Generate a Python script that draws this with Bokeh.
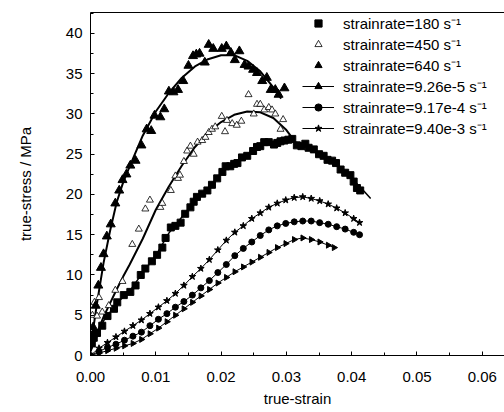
import numpy as np
from bokeh.plotting import figure
from bokeh.models import (Range1d, SingleIntervalTicker, LinearAxis, Legend,
                          LegendItem, FixedTicker, PrintfTickFormatter)
from bokeh.embed import file_html
from bokeh.resources import INLINE

FONT = "Liberation Sans"

# ---------------- data ----------------
# strain rate 180 s^-1 (filled squares)
s180_x = [0.0002,0.0005,0.0010,0.0018,0.0026,0.0036,0.0041,0.0051,0.0061,0.0069,
          0.0077,0.0084,0.0094,0.0102,0.0110,0.0115,0.0123,0.0130,0.0138,0.0145,
          0.0153,0.0158,0.0163,0.0171,0.0179,0.0186,0.0194,0.0202,0.0207,0.0214,
          0.0220,0.0225,0.0232,0.0240,0.0249,0.0255,0.0260,0.0266,0.0273,0.0281,
          0.0286,0.0291,0.0297,0.0303,0.0309,0.0316,0.0323,0.0329,0.0334,0.0342,
          0.0350,0.0357,0.0363,0.0370,0.0376,0.0383,0.0390,0.0398,0.0403,0.0408,0.0413]
s180_y = [1.5,2.2,2.8,3.7,4.9,5.8,6.6,7.5,7.9,8.7,
          10.0,10.8,11.7,12.5,13.4,14.6,15.9,16.1,16.5,17.6,
          18.4,19.1,19.7,20.1,20.5,21.2,22.0,22.8,23.5,23.5,
          23.8,23.9,24.6,24.8,25.4,25.9,26.0,26.5,26.5,26.2,
          26.4,26.6,26.7,26.8,26.9,26.1,26.0,26.3,25.8,25.6,
          25.0,24.8,24.3,24.2,23.9,23.1,22.7,22.4,21.6,20.8,20.5]
fit180_x = [0.0,0.002,0.004,0.006,0.008,0.010,0.012,0.014,0.016,0.018,0.020,0.022,
            0.024,0.026,0.028,0.030,0.032,0.034,0.036,0.038,0.040,0.042,0.0429]
fit180_y = [0.5,4.3,6.5,8.0,10.3,12.4,15.2,17.2,19.2,20.8,22.6,23.9,
            25.0,26.0,26.5,26.7,26.4,25.7,24.7,23.4,22.0,20.3,19.5]

# strain rate 450 s^-1 (open triangles)
s450_x = [0.0003,0.0006,0.0010,0.0013,0.0018,0.0028,0.0038,0.0049,0.0064,0.0074,
          0.0084,0.0091,0.0107,0.0110,0.0123,0.0130,0.0134,0.0137,0.0143,0.0148,
          0.0153,0.0158,0.0164,0.0171,0.0176,0.0181,0.0186,0.0191,0.0201,0.0206,
          0.0209,0.0217,0.0224,0.0231,0.0242,0.0250,0.0255,0.0260,0.0266,0.0273,
          0.0278,0.0283,0.0291,0.0295]
s450_y = [5.0,6.6,4.9,7.2,5.4,6.2,8.1,9.2,13.8,15.7,
          18.2,19.3,18.4,18.9,20.5,22.3,22.0,22.4,24.1,25.4,
          26.0,25.0,26.5,26.7,27.1,27.7,28.1,28.4,29.7,27.8,
          29.2,28.8,28.6,29.1,32.4,30.0,31.2,31.2,30.5,30.8,
          30.5,30.0,28.1,29.3]
fit450_x = [0.0,0.001,0.002,0.003,0.004,0.005,0.006,0.008,0.010,0.012,0.014,
            0.016,0.018,0.020,0.022,0.024,0.026,0.028,0.030,0.031]
fit450_y = [0.5,2.8,4.8,6.5,8.2,9.8,11.3,14.5,18.1,21.0,23.6,
            25.9,27.7,29.0,29.9,30.3,30.2,29.5,28.0,26.9]

# strain rate 640 s^-1 (filled triangles)
s640_x = [0.0001,0.0004,0.0008,0.0012,0.0016,0.0020,0.0025,0.0031,0.0038,0.0044,
          0.0049,0.0055,0.0061,0.0069,0.0078,0.0086,0.0093,0.0098,0.0107,0.0113,
          0.0120,0.0127,0.0134,0.0142,0.0150,0.0157,0.0162,0.0167,0.0175,0.0181,
          0.0188,0.0201,0.0208,0.0215,0.0221,0.0228,0.0236,0.0242,0.0249,0.0255,
          0.0263,0.0270,0.0276,0.0283,0.0288,0.0297]
s640_y = [2.4,3.5,6.2,8.7,10.9,12.6,14.8,16.3,18.9,20.5,
          21.8,22.5,23.6,24.2,26.1,28.1,27.9,29.8,29.6,30.6,
          32.8,32.7,33.0,34.1,36.0,37.2,37.4,37.5,36.4,38.6,
          38.1,38.1,38.4,37.6,36.7,37.8,36.1,35.9,35.5,35.1,
          34.1,34.5,33.0,33.0,32.4,33.2]
fit640_x = [0.0,0.001,0.002,0.003,0.004,0.005,0.006,0.008,0.010,0.012,0.014,
            0.016,0.018,0.020,0.022,0.024,0.026,0.028,0.0292]
fit640_y = [1.0,6.5,11.5,15.5,19.0,21.5,23.5,27.3,30.3,32.6,34.5,
            35.9,36.8,37.3,37.3,36.6,35.3,33.3,31.9]

# quasi-static strain rates (line + markers)
qs_x = [0.0000,0.0013,0.0026,0.0039,0.0052,0.0065,0.0078,0.0091,0.0104,0.0117,
        0.0130,0.0143,0.0156,0.0169,0.0182,0.0195,0.0208,0.0221,0.0234,0.0247,
        0.0260,0.0273,0.0286,0.0299,0.0312,0.0325,0.0338,0.0351,0.0364,0.0377,
        0.0390,0.0403,0.0412]
q940e3_y = [0.0,0.9,1.6,2.3,3.0,3.7,4.4,5.2,6.0,6.8,
            7.7,8.7,9.8,10.8,11.9,13.1,14.3,15.3,16.1,17.0,
            17.7,18.4,18.9,19.3,19.6,19.7,19.5,19.2,18.8,18.3,
            17.7,17.0,16.5]
q917e4_y = [0.0,0.5,1.0,1.4,1.9,2.4,2.9,3.7,4.5,5.2,
            6.0,6.7,7.5,8.4,9.3,10.3,11.3,12.4,13.3,14.1,
            14.9,15.6,16.1,16.4,16.6,16.7,16.7,16.5,16.3,16.0,
            15.7,15.3,15.0]
q926e5_x = qs_x[:29] + [0.0373]
q926e5_y = [0.0,0.3,0.6,0.9,1.2,1.5,2.0,2.7,3.4,4.2,
            5.0,5.8,6.6,7.4,8.2,9.0,9.7,10.4,11.0,11.6,
            12.2,12.8,13.4,13.9,14.4,14.6,14.4,14.1,13.7,13.4]

labels = ["strainrate=180 s\u207b\u00b9", "strainrate=450 s\u207b\u00b9",
          "strainrate=640 s\u207b\u00b9", "strainrate=9.26e-5 s\u207b\u00b9",
          "strainrate=9.17e-4 s\u207b\u00b9", "strainrate=9.40e-3 s\u207b\u00b9"]

# ---------------- figure ----------------
p = figure(width=504, height=412, output_backend="svg", toolbar_location=None,
           x_range=Range1d(0, 0.0634), y_range=Range1d(0, 42.6),
           min_border_left=90, min_border_right=0, min_border_top=12,
           min_border_bottom=57)
p.outline_line_color = None
p.grid.visible = False

p.xaxis.ticker = SingleIntervalTicker(interval=0.01, num_minor_ticks=2)
p.xaxis.formatter = PrintfTickFormatter(format="%.2f")
p.yaxis.ticker = SingleIntervalTicker(interval=5, num_minor_ticks=2)
for ax in (p.xaxis[0], p.yaxis[0]):
    ax.major_tick_in = 4
    ax.major_tick_out = 0
    ax.minor_tick_in = 3
    ax.minor_tick_out = 0
    ax.axis_line_color = "black"
    ax.major_tick_line_color = "black"
    ax.minor_tick_line_color = "black"
    ax.major_label_text_font = FONT
    ax.major_label_text_font_size = "15px"
    ax.major_label_text_color = "black"
    ax.axis_label_text_font = FONT
    ax.axis_label_text_font_size = "15px"
    ax.axis_label_text_font_style = "normal"
    ax.axis_label_text_color = "black"
p.xaxis.axis_label = "true-strain"
p.yaxis.axis_label = "true-stress / MPa"
p.xaxis.major_label_standoff = 16
p.xaxis.axis_label_standoff = 5
p.yaxis.major_label_standoff = 8
p.yaxis.axis_label_standoff = 29

top = LinearAxis(ticker=FixedTicker(ticks=[]), major_label_text_font_size="0px",
                 major_tick_out=0, major_tick_in=0, minor_tick_out=0, minor_tick_in=0,
                 major_label_standoff=0, axis_line_color="black")
p.add_layout(top, "above")

# fitted lines for dynamic rates
p.line(fit180_x, fit180_y, line_color="black", line_width=1.5)
p.line(fit450_x, fit450_y, line_color="black", line_width=2)
p.line(fit640_x, fit640_y, line_color="black", line_width=2)

r180 = p.scatter(s180_x, s180_y, marker="square", size=7, fill_color="black", line_color="black")
r450 = p.scatter(s450_x, s450_y, marker="triangle", size=7, fill_color="white", line_color="black", line_width=0.8)
r640 = p.scatter(s640_x, s640_y, marker="triangle", size=9, fill_color="black", line_color="black")

l1 = p.line(q926e5_x, q926e5_y, line_color="black", line_width=1)
m1 = p.scatter(q926e5_x, q926e5_y, marker="triangle", angle=-np.pi/2, size=6, fill_color="black", line_color="black")
l2 = p.line(qs_x, q917e4_y, line_color="black", line_width=1)
m2 = p.scatter(qs_x, q917e4_y, marker="circle", size=6, fill_color="black", line_color="black")
l3 = p.line(qs_x, q940e3_y, line_color="black", line_width=1)
m3 = p.scatter(qs_x, q940e3_y, marker="star", size=7, fill_color="black", line_color="black")

legend = Legend(items=[
    LegendItem(label=labels[0], renderers=[r180]),
    LegendItem(label=labels[1], renderers=[r450]),
    LegendItem(label=labels[2], renderers=[r640]),
    LegendItem(label=labels[3], renderers=[l1, m1]),
    LegendItem(label=labels[4], renderers=[l2, m2]),
    LegendItem(label=labels[5], renderers=[l3, m3]),
], location=(212, 217), border_line_color=None, background_fill_alpha=0,
   padding=0, margin=0, spacing=1, glyph_width=32, glyph_height=18,
   label_height=18, label_standoff=9, label_text_font=FONT,
   label_text_font_size="15px", label_text_color="black")
p.add_layout(legend)

open("out.html", "w").write(file_html(p, INLINE))
